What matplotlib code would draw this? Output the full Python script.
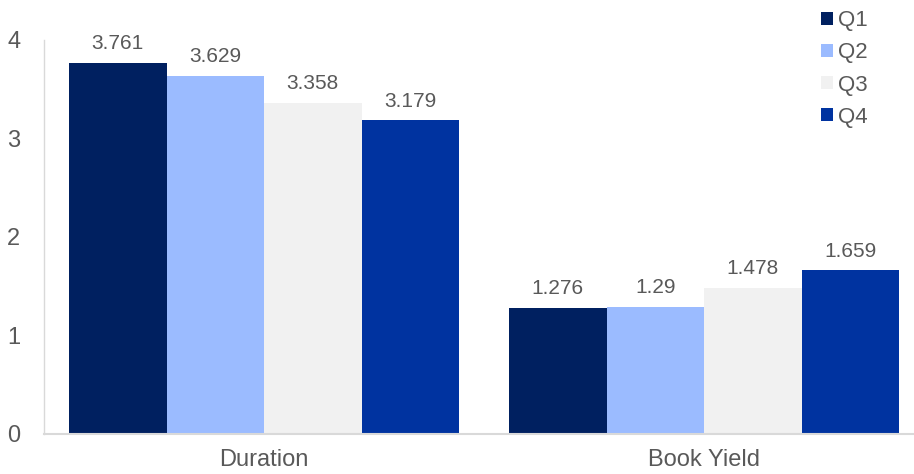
import numpy as np
import matplotlib.pyplot as plt
from matplotlib.patches import Patch

plt.rcParams['font.family'] = ['Liberation Sans', 'DejaVu Sans']

categories = ["Duration", "Book Yield"]
series_names = ["Q1", "Q2", "Q3", "Q4"]
q1 = [3.761, 1.276]
q2 = [3.629, 1.29]
q3 = [3.358, 1.478]
q4 = [3.179, 1.659]
colors = ["#002060", "#9BBBFF", "#F1F1F1", "#0033A0"]

values = [q1, q2, q3, q4]
text_color = "#595959"

fig = plt.figure(figsize=(9.14, 4.74), dpi=100)
ax = fig.add_axes([44 / 914, 40 / 474, 870 / 914, 394.5 / 474])

x = np.arange(len(categories))
width = 0.2215
for i, (name, vals) in enumerate(zip(series_names, values)):
    pos = x + (i - 1.5) * width
    ax.bar(pos, vals, width, color=colors[i], label=name)
    for p, v in zip(pos, vals):
        ax.text(p, v + 0.1, f"{v:g}", ha='center', va='bottom', fontsize=15, color=text_color)

ax.set_xlim(-0.5, 1.477)
ax.set_ylim(0, 4)
ax.set_yticks([0, 1, 2, 3, 4])
ax.set_xticks(x)
ax.set_xticklabels(categories)
ax.tick_params(axis='both', length=0, labelsize=17, colors=text_color)
ax.tick_params(axis='y', pad=17)
ax.tick_params(axis='x', pad=11)
for s in ['top', 'right']:
    ax.spines[s].set_visible(False)
ax.spines['left'].set_color('#D9D9D9')
ax.spines['bottom'].set_color('#D9D9D9')
ax.spines['left'].set_linewidth(1.0)
ax.spines['bottom'].set_linewidth(1.5)

handles = [Patch(facecolor=c, label=n) for c, n in zip(colors, series_names)]
leg = fig.legend(handles=handles, loc='upper left', bbox_to_anchor=(812 / 914, 0.997),
                 frameon=False, fontsize=16, handlelength=0.55, handleheight=0.55,
                 handletextpad=0.22, labelspacing=0.5, borderaxespad=0.0)
for t in leg.get_texts():
    t.set_color(text_color)

fig.savefig("out.png", dpi=100)
